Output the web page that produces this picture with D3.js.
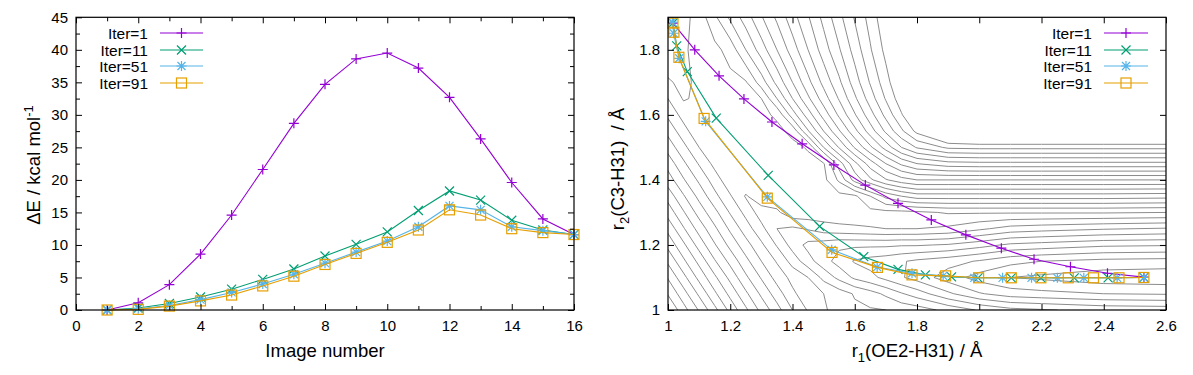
<!DOCTYPE html>
<html>
<head>
<meta charset="utf-8">
<script src="https://cdn.jsdelivr.net/npm/d3@7"></script>
<style>
  body { margin: 0; background: #fff; }
  text { font-family: "Liberation Sans", Arial, Helvetica, sans-serif; fill: #000; }
  .frame { fill: none; stroke: #000; stroke-width: 1.2; }
  .tick line { stroke: #000; stroke-width: 1; }
  .contour { fill: none; stroke: #8c8c8c; stroke-width: 1; }
</style>
</head>
<body>
<svg id="chart" width="1193" height="375"></svg>
<script>
// left panel: energy along the path, per image
var imageNumber = [1, 2, 3, 4, 5, 6, 7, 8, 9, 10, 11, 12, 13, 14, 15, 16];
var dE_iter1  = [0, 1.1, 3.9, 8.6, 14.6, 21.6, 28.7, 34.7, 38.6, 39.5, 37.2, 32.7, 26.3, 19.6, 14.0, 11.6];
var dE_iter11 = [0, 0.3, 1.0, 2.0, 3.2, 4.7, 6.3, 8.3, 10.1, 12.0, 15.3, 18.3, 16.9, 13.8, 12.3, 11.6];
var dE_iter51 = [0, 0.2, 0.7, 1.6, 2.7, 4.0, 5.5, 7.2, 8.9, 10.6, 12.8, 16.0, 15.4, 12.8, 12.2, 11.6];
var dE_iter91 = [0, 0.1, 0.6, 1.4, 2.3, 3.7, 5.2, 7.0, 8.7, 10.4, 12.3, 15.4, 14.6, 12.5, 11.9, 11.6];

// right panel: images in (r1, r2)
var r1_iter1  = [1.016, 1.086, 1.164, 1.244, 1.334, 1.431, 1.533, 1.634, 1.739, 1.846, 1.957, 2.071, 2.176, 2.293, 2.412, 2.529];
var r2_iter1  = [1.882, 1.800, 1.720, 1.649, 1.578, 1.511, 1.446, 1.384, 1.328, 1.277, 1.231, 1.190, 1.156, 1.133, 1.113, 1.101];
var r1_iter11 = [1.016, 1.028, 1.062, 1.155, 1.322, 1.487, 1.629, 1.739, 1.827, 1.911, 1.996, 2.103, 2.198, 2.305, 2.414, 2.529];
var r2_iter11 = [1.882, 1.812, 1.733, 1.590, 1.414, 1.257, 1.164, 1.125, 1.108, 1.102, 1.099, 1.099, 1.099, 1.099, 1.099, 1.100];
var r1_iter51 = [1.014, 1.018, 1.036, 1.121, 1.319, 1.526, 1.672, 1.784, 1.884, 1.984, 2.075, 2.168, 2.251, 2.336, 2.443, 2.529];
var r2_iter51 = [1.885, 1.851, 1.774, 1.580, 1.348, 1.185, 1.132, 1.113, 1.105, 1.099, 1.099, 1.099, 1.099, 1.099, 1.099, 1.100];
var r1_iter91 = [1.016, 1.019, 1.035, 1.116, 1.319, 1.527, 1.673, 1.784, 1.892, 1.998, 2.103, 2.198, 2.286, 2.367, 2.449, 2.529];
var r2_iter91 = [1.882, 1.854, 1.777, 1.589, 1.344, 1.177, 1.131, 1.108, 1.105, 1.099, 1.099, 1.099, 1.099, 1.099, 1.099, 1.100];

var iterNames = ["Iter=1", "Iter=11", "Iter=51", "Iter=91"];

var leftXTicks = [0, 2, 4, 6, 8, 10, 12, 14, 16];
var leftXMinor = [1, 3, 5, 7, 9, 11, 13, 15];
var leftYTicks = [0, 5, 10, 15, 20, 25, 30, 35, 40, 45];
var leftYMinor = [2.5, 7.5, 12.5, 17.5, 22.5, 27.5, 32.5, 37.5, 42.5];
var rightXTicks = [1, 1.2, 1.4, 1.6, 1.8, 2, 2.2, 2.4, 2.6];
var rightYTicks = [1, 1.2, 1.4, 1.6, 1.8];

// background surface, in contour-level units
var contourLevels = [1,2,3,4,5,6,7,8,9,10,11,12,13,14,15,16,17,18,19,20,21,22,23,24,25];
var gridR1 = [0.9, 1.0, 1.05, 1.1, 1.15, 1.2, 1.25, 1.3, 1.35, 1.4, 1.45, 1.5, 1.55, 1.6, 1.65, 1.7, 1.75, 1.8, 1.9, 2.0, 2.1, 2.2, 2.4, 2.6, 2.7];
var gridR2 = [1.95, 1.9, 1.8, 1.7, 1.65, 1.6, 1.55, 1.5, 1.45, 1.4, 1.35, 1.3, 1.25, 1.2, 1.15, 1.1, 1.05, 1.0, 0.95];
var surface = [
  [8.8, 8.3, 8.7, 9.4, 11.2, 12.8, 14.1, 15.4, 16.7, 18.0, 19.3, 20.6, 22.0, 23.3, 24.7, 26.0, 27.4, 28.8, 31.8, 35.1, 38.4, 40.0, 40.0, 40.0, 40.0],
  [8.8, 8.3, 8.7, 9.4, 10.8, 12.2, 13.5, 14.9, 16.2, 17.6, 18.9, 20.3, 21.7, 23.1, 24.4, 25.8, 27.2, 28.6, 31.7, 35.0, 38.3, 40.0, 40.0, 40.0, 40.0],
  [10.0, 8.4, 8.8, 9.5, 9.7, 10.4, 12.0, 13.5, 15.0, 16.5, 18.0, 19.5, 20.9, 22.4, 23.9, 25.3, 26.8, 28.2, 31.3, 34.6, 38.0, 40.0, 40.0, 40.0, 40.0],
  [11.7, 9.1, 8.8, 9.2, 9.7, 9.7, 9.9, 11.5, 13.3, 15.0, 16.7, 18.3, 19.8, 21.5, 23.1, 24.6, 26.1, 27.6, 30.6, 33.9, 37.2, 39.2, 39.2, 39.2, 39.2],
  [12.6, 10.0, 8.9, 9.2, 9.7, 9.7, 9.7, 10.0, 12.0, 14.0, 15.8, 17.5, 19.1, 20.8, 22.5, 24.1, 25.6, 27.1, 30.1, 33.2, 35.4, 35.5, 35.5, 35.5, 35.5],
  [13.5, 10.8, 9.6, 9.1, 9.7, 9.7, 9.7, 9.7, 10.2, 12.5, 14.5, 16.4, 18.2, 19.9, 21.6, 23.3, 24.9, 26.4, 29.2, 31.5, 31.7, 31.7, 31.7, 31.7, 31.7],
  [14.5, 11.7, 10.4, 9.2, 9.4, 9.7, 9.7, 9.7, 9.7, 10.3, 12.9, 15.0, 16.9, 18.7, 20.5, 22.2, 23.8, 25.3, 27.4, 28.0, 28.0, 28.0, 28.0, 28.0, 28.0],
  [15.5, 12.6, 11.3, 10.0, 9.3, 9.7, 9.7, 9.7, 9.7, 9.7, 10.1, 13.0, 15.1, 17.1, 18.8, 20.4, 22.0, 23.1, 24.2, 24.3, 24.3, 24.3, 24.3, 24.3, 24.3],
  [16.5, 13.6, 12.2, 10.9, 9.7, 9.6, 9.7, 9.7, 9.7, 9.7, 9.7, 9.9, 12.5, 14.7, 16.5, 18.0, 19.2, 20.0, 20.6, 20.7, 20.7, 20.7, 20.7, 20.7, 20.7],
  [17.6, 14.5, 13.1, 11.8, 10.5, 9.3, 9.7, 9.7, 9.7, 9.7, 9.7, 9.7, 11.2, 13.4, 14.8, 15.9, 16.6, 17.0, 17.0, 17.0, 17.0, 17.0, 17.0, 17.0, 16.9],
  [18.7, 15.6, 14.1, 12.7, 11.3, 10.1, 8.9, 9.7, 9.7, 9.7, 9.7, 9.7, 9.7, 9.8, 11.0, 12.3, 13.0, 13.5, 13.5, 13.5, 13.5, 13.5, 13.5, 13.4, 13.4],
  [19.7, 16.6, 15.1, 13.6, 12.3, 10.9, 9.7, 8.5, 8.8, 9.7, 9.7, 9.7, 9.7, 9.7, 9.7, 9.7, 9.7, 9.8, 10.1, 10.1, 10.1, 10.1, 10.1, 10.0, 10.0],
  [20.8, 17.7, 16.1, 14.6, 13.2, 11.8, 10.5, 9.3, 8.0, 7.8, 8.1, 8.5, 8.7, 8.8, 8.9, 9.0, 9.0, 9.0, 8.8, 8.2, 7.6, 7.4, 7.1, 6.9, 6.9],
  [21.9, 18.7, 17.2, 15.6, 14.1, 12.7, 11.4, 10.2, 8.9, 7.6, 6.7, 6.5, 6.2, 6.2, 6.2, 6.2, 6.1, 6.1, 5.9, 5.4, 4.8, 4.6, 4.2, 4.1, 4.1],
  [22.9, 19.8, 18.2, 16.7, 15.1, 13.7, 12.3, 11.0, 9.9, 8.6, 7.4, 6.4, 5.6, 4.9, 4.6, 4.4, 4.1, 3.8, 3.4, 2.9, 2.3, 2.0, 1.7, 1.6, 1.6],
  [24.0, 20.9, 19.3, 17.7, 16.2, 14.7, 13.2, 11.9, 10.6, 9.7, 9.0, 7.7, 6.7, 5.8, 5.3, 4.7, 4.1, 3.6, 2.5, 1.6, 1.0, 0.8, 0.4, 0.3, 0.3],
  [25.0, 21.9, 20.4, 18.8, 17.2, 15.7, 14.2, 12.8, 11.5, 10.2, 9.4, 9.0, 8.5, 7.9, 7.4, 6.8, 6.1, 5.5, 4.2, 3.1, 2.5, 2.3, 2.0, 1.9, 1.8],
  [26.0, 23.0, 21.4, 19.9, 18.3, 16.7, 15.2, 13.7, 12.4, 11.0, 9.9, 9.1, 8.7, 8.2, 8.1, 8.0, 7.7, 7.5, 6.7, 5.9, 5.3, 5.1, 4.7, 4.6, 4.6],
  [27.0, 24.0, 22.5, 20.9, 19.3, 17.8, 16.2, 14.7, 13.3, 11.9, 10.6, 9.4, 8.8, 8.4, 8.2, 8.1, 7.9, 7.7, 6.9, 6.1, 5.5, 5.2, 4.9, 4.8, 4.7]
];

var colors = ["#9400d3", "#009e73", "#56b4e9", "#e69f00"];
var markers = ["plus", "cross", "star", "square"];

var svg = d3.select("#chart");

function drawMarker(g, type, color) {
  var paths = {
    plus: "M-5,0H5M0,-5V5",
    cross: "M-4.5,-4.5L4.5,4.5M-4.5,4.5L4.5,-4.5",
    star: "M-5,0H5M0,-5V5M-4,-4L4,4M-4,4L4,-4"
  };
  if (type == "square") {
    g.append("rect").attr("x", -5).attr("y", -5).attr("width", 10).attr("height", 10)
      .attr("fill", "none").attr("stroke", color).attr("stroke-width", 1.2);
  } else {
    g.append("path").attr("d", paths[type]).attr("fill", "none")
      .attr("stroke", color).attr("stroke-width", 1.2);
  }
}

function frameAxes(x, y, xt, xm, yt, ym, fmt) {
  var x0 = x.range()[0], x1 = x.range()[1], y0 = y.range()[0], y1 = y.range()[1];
  var g = svg.append("g");
  g.append("g").attr("transform", "translate(0," + y0 + ")")
    .call(d3.axisBottom(x).tickValues(xt).tickSize(-6).tickPadding(10).tickFormat(fmt));
  g.append("g").attr("transform", "translate(0," + y1 + ")")
    .call(d3.axisTop(x).tickValues(xt).tickSize(-6).tickFormat(""));
  g.append("g").attr("transform", "translate(" + x0 + ",0)")
    .call(d3.axisLeft(y).tickValues(yt).tickSize(-6).tickPadding(8).tickFormat(fmt));
  g.append("g").attr("transform", "translate(" + x1 + ",0)")
    .call(d3.axisRight(y).tickValues(yt).tickSize(-6).tickFormat(""));
  if (xm) {
    g.append("g").attr("transform", "translate(0," + y0 + ")")
      .call(d3.axisBottom(x).tickValues(xm).tickSize(-4).tickFormat(""));
    g.append("g").attr("transform", "translate(0," + y1 + ")")
      .call(d3.axisTop(x).tickValues(xm).tickSize(-4).tickFormat(""));
  }
  if (ym) {
    g.append("g").attr("transform", "translate(" + x0 + ",0)")
      .call(d3.axisLeft(y).tickValues(ym).tickSize(-4).tickFormat(""));
    g.append("g").attr("transform", "translate(" + x1 + ",0)")
      .call(d3.axisRight(y).tickValues(ym).tickSize(-4).tickFormat(""));
  }
  g.selectAll(".domain").remove();
  g.selectAll(".tick text").style("font-size", "15px").attr("font-family", null);
  g.append("rect").attr("class", "frame")
    .attr("x", x0).attr("y", y1).attr("width", x1 - x0).attr("height", y0 - y1);
}

function drawSeries(g, x, y, xs, ys, i) {
  var pts = xs.map(function(d, k) { return [x(d), y(ys[k])]; });
  g.append("path").attr("d", d3.line()(pts)).attr("fill", "none")
    .attr("stroke", colors[i]).attr("stroke-width", 1.1);
  pts.forEach(function(p) {
    drawMarker(g.append("g").attr("transform", "translate(" + p[0] + "," + p[1] + ")"), markers[i], colors[i]);
  });
}

function drawLegend(textX, lineX0, lineX1, rowY) {
  var g = svg.append("g").attr("class", "legend");
  iterNames.forEach(function(name, i) {
    var yy = rowY[i];
    g.append("text").attr("x", textX).attr("y", yy + 5.5).attr("text-anchor", "end")
      .style("font-size", "15.5px").text(name);
    g.append("line").attr("x1", lineX0).attr("x2", lineX1).attr("y1", yy).attr("y2", yy)
      .attr("stroke", colors[i]).attr("stroke-width", 1.1);
    drawMarker(g.append("g").attr("transform", "translate(" + ((lineX0 + lineX1) / 2) + "," + yy + ")"), markers[i], colors[i]);
  });
}

// ---------- left panel ----------
var xL = d3.scaleLinear().domain([0, 16]).range([76, 574]);
var yL = d3.scaleLinear().domain([0, 45]).range([310, 17.3]);

var left = svg.append("g");
[dE_iter1, dE_iter11, dE_iter51, dE_iter91].forEach(function(s, i) {
  drawSeries(left, xL, yL, imageNumber, s, i);
});
frameAxes(xL, yL, leftXTicks, leftXMinor, leftYTicks, leftYMinor, d3.format("~g"));
drawLegend(148, 160, 203, [33, 50, 66, 83]);

svg.append("text").attr("x", 325).attr("y", 357).attr("text-anchor", "middle")
  .style("font-size", "18.5px").text("Image number");
var yl = svg.append("text").attr("transform", "translate(40,165) rotate(-90)")
  .attr("text-anchor", "middle").style("font-size", "18.5px");
yl.append("tspan").text("\u0394E / kcal mol");
yl.append("tspan").attr("dy", -7).style("font-size", "13px").text("-1");

// ---------- right panel ----------
var xR = d3.scaleLinear().domain([1, 2.6]).range([668, 1166]);
var yR = d3.scaleLinear().domain([1, 1.9]).range([310, 17.3]);

svg.append("clipPath").attr("id", "clipR").append("rect")
  .attr("x", 668).attr("y", 17.3).attr("width", 498).attr("height", 292.7);

// contour lines of the surface grid (grid cell centres sit at index + 0.5)
var contours = d3.contours().size([gridR1.length, gridR2.length])
  .thresholds(contourLevels)(d3.merge(surface));
var gx = d3.scaleLinear().domain(gridR1.map(function(d, i) { return i + 0.5; })).range(gridR1);
var gy = d3.scaleLinear().domain(gridR2.map(function(d, i) { return i + 0.5; })).range(gridR2);
var proj = d3.geoTransform({ point: function(px, py) { this.stream.point(xR(gx(px)), yR(gy(py))); } });

var right = svg.append("g");
right.append("g").attr("clip-path", "url(#clipR)").selectAll("path")
  .data(contours).enter().append("path")
  .attr("class", "contour").attr("d", d3.geoPath(proj));

[[r1_iter1, r2_iter1], [r1_iter11, r2_iter11], [r1_iter51, r2_iter51], [r1_iter91, r2_iter91]].forEach(function(s, i) {
  drawSeries(right, xR, yR, s[0], s[1], i);
});
frameAxes(xR, yR, rightXTicks, null, rightYTicks, null, d3.format("~g"));
drawLegend(1092, 1104, 1148, [33, 50, 66, 83]);

var xl = svg.append("text").attr("x", 917).attr("y", 357).attr("text-anchor", "middle").style("font-size", "18.5px");
xl.append("tspan").text("r");
xl.append("tspan").attr("dy", 5).style("font-size", "13px").text("1");
xl.append("tspan").attr("dy", -5).text("(OE2-H31) / \u00c5");
var yr = svg.append("text").attr("transform", "translate(624,169) rotate(-90)")
  .attr("text-anchor", "middle").style("font-size", "18.5px");
yr.append("tspan").text("r");
yr.append("tspan").attr("dy", 5).style("font-size", "13px").text("2");
yr.append("tspan").attr("dy", -5).style("white-space", "pre").text("(C3-H31)  / \u00c5");
</script>
</body>
</html>
